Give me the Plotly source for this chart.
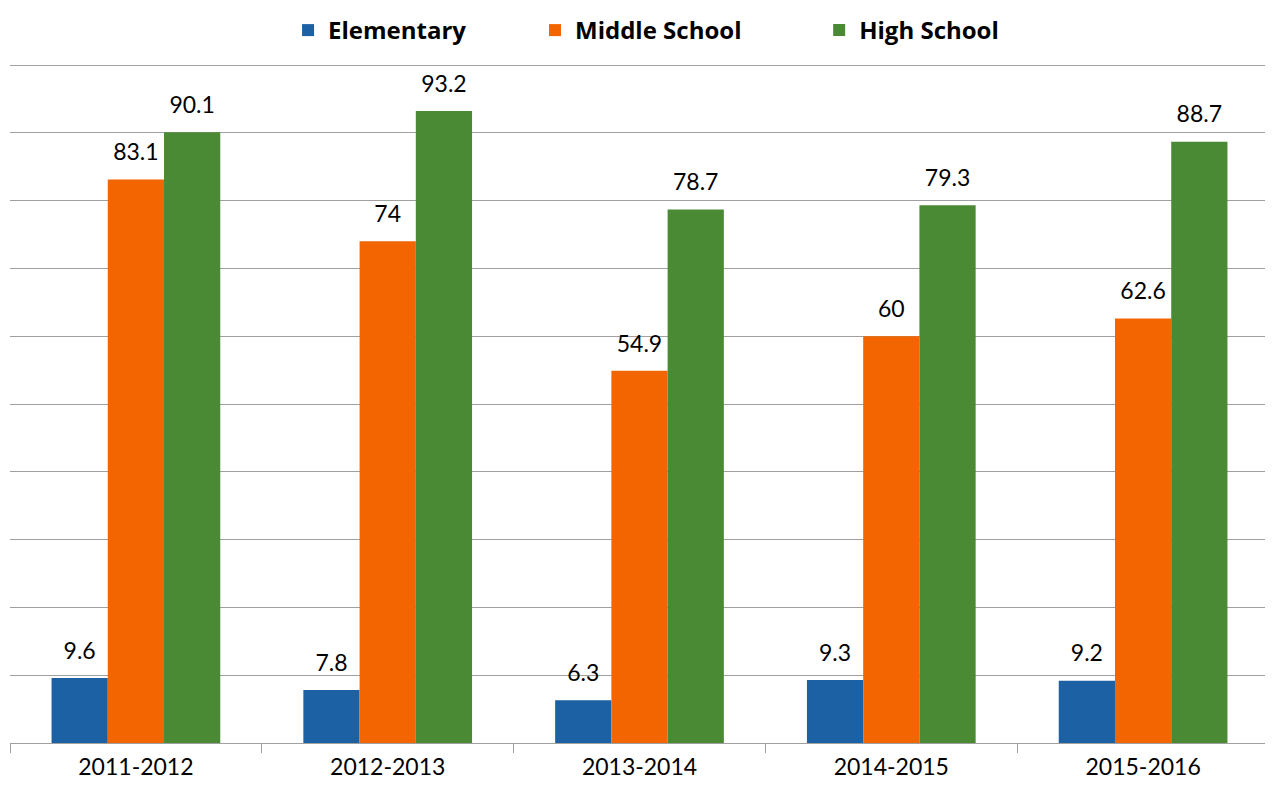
import plotly.graph_objects as go

years = ["2011-2012", "2012-2013", "2013-2014", "2014-2015", "2015-2016"]
elementary = [9.6, 7.8, 6.3, 9.3, 9.2]
middle_school = [83.1, 74, 54.9, 60, 62.6]
high_school = [90.1, 93.2, 78.7, 79.3, 88.7]

series = [
    ("Elementary", elementary, "#1B61A4", "legend", 0.2200),
    ("Middle School", middle_school, "#F26500", "legend2", 0.4140),
    ("High School", high_school, "#4A8A35", "legend3", 0.6372),
]

fig = go.Figure()
for name, vals, color, leg, _ in series:
    fig.add_trace(go.Bar(
        x=years, y=vals, name=name,
        marker=dict(color=color, line=dict(width=0)),
        offsetgroup=name, legend=leg,
    ))
# value labels sit a bit higher than plotly's bar text, so draw them as text scatter
for name, vals, color, leg, _ in series:
    fig.add_trace(go.Scatter(
        x=years, y=vals, mode="markers+text",
        marker=dict(size=20, opacity=0),
        text=[f"{v:g}" for v in vals],
        textposition="top center",
        textfont=dict(size=23, color="#000000"),
        offsetgroup=name, showlegend=False, hoverinfo="skip",
        cliponaxis=False,
    ))

# the page body adds an 8px offset, so margins are shifted to compensate
fig.update_layout(
    width=1273, height=790,
    barmode="group", bargap=0.33, bargroupgap=0,
    scattermode="group", scattergap=0.33,
    plot_bgcolor="white", paper_bgcolor="white",
    margin=dict(l=2, r=12, t=56, b=55, autoexpand=False),
    font=dict(family="Lato", size=23, color="#000000"),
    showlegend=True,
)
for name, vals, color, leg, xpos in series:
    fig.update_layout({leg: dict(
        orientation="h", xref="container", x=xpos, xanchor="left",
        yref="container", y=1.0, yanchor="top",
        font=dict(size=24, family="Open Sans", weight="bold"),
        itemwidth=30,
    )})

fig.update_xaxes(showline=True, linecolor="#A0A0A0", linewidth=1,
                 ticks="outside", tickson="boundaries", ticklen=9, tickcolor="#A0A0A0",
                 tickfont=dict(size=23), ticklabelstandoff=3)
fig.update_yaxes(range=[0, 100.15], tickvals=[10, 20, 30, 40, 50, 60, 70, 80, 90, 100],
                 showticklabels=False,
                 showgrid=True, gridcolor="#A0A0A0", gridwidth=1, zeroline=False)

fig.write_html("out.html")
